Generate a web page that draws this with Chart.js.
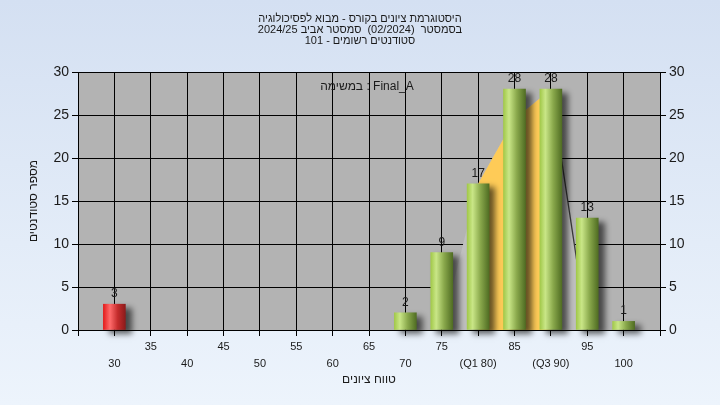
<!DOCTYPE html>
<html>
<head>
<meta charset="utf-8">
<script src="https://cdn.jsdelivr.net/npm/chart.js@4/dist/chart.umd.min.js"></script>
<style>
  html, body { margin: 0; padding: 0; background: #e3ecf8; }
  #wrap { width: 720px; height: 405px; }
</style>
</head>
<body>
<div id="wrap"><canvas id="histogram" width="720" height="405"></canvas></div>
<script>
// grade bins and number of students per bin
const bins = [30, 35, 40, 45, 50, 55, 60, 65, 70, 75, 80, 85, 90, 95, 100];
const counts = [3, 0, 0, 0, 0, 0, 0, 0, 2, 9, 17, 28, 28, 13, 1];
const tickLabels = ['30', '35', '40', '45', '50', '55', '60', '65', '70', '75', '(Q1 80)', '85', '(Q3 90)', '95', '100'];

// smoothed distribution drawn behind the bars
const curveX = [75, 80, 85, 90, 95];
const curveY = [0, 17, 24.5, 28, 0];
const q1 = 80;
const q3 = 90;
const passMark = 55;

const titleLines = [
    'היסטוגרמת ציונים בקורס - מבוא לפסיכולוגיה',
    'בסמסטר  (02/2024)  סמסטר אביב 2024/25',
    'סטודנטים רשומים - 101'
];
const taskLabel = 'במשימה : Final_A';
const xTitle = 'טווח ציונים';
const yTitle = 'מספר סטודנטים';

const FONT = "'Liberation Sans', Arial, sans-serif";
Chart.defaults.font.family = FONT;
Chart.defaults.color = '#1a1a1a';

function barGradient(c, bar, failing) {
    const g = c.createLinearGradient(bar.x - bar.width / 2, 0, bar.x + bar.width / 2, 0);
    if (failing) {
        g.addColorStop(0, '#e31c1c');
        g.addColorStop(0.3, '#ff6b6b');
        g.addColorStop(0.65, '#c42c2c');
        g.addColorStop(1, '#8c1b1b');
    } else {
        g.addColorStop(0, '#a2c94a');
        g.addColorStop(0.25, '#c9e687');
        g.addColorStop(0.6, '#8aa94c');
        g.addColorStop(1, '#506d23');
    }
    return g;
}

const backdrop = {
    id: 'backdrop',
    beforeDraw(chart) {
        const c = chart.ctx;
        const a = chart.chartArea;
        c.save();
        const g = c.createLinearGradient(0, 0, 0, chart.height);
        g.addColorStop(0, '#d4e0f2');
        g.addColorStop(1, '#edf4fc');
        c.fillStyle = g;
        c.fillRect(0, 0, chart.width, chart.height);
        c.fillStyle = '#b3b3b3';
        c.fillRect(a.left, a.top, a.right - a.left, a.bottom - a.top);
        c.restore();
    }
};

const barLook = {
    id: 'barLook',
    beforeDatasetDraw(chart, args) {
        if (args.meta.type !== 'bar') return;
        const c = chart.ctx;
        args.meta.data.forEach((bar, i) => {
            if (Number.isFinite(bar.x)) bar.options.backgroundColor = barGradient(c, bar, bins[i] < passMark);
        });
        c.save();
        c.shadowColor = 'rgba(0,0,0,0.6)';
        c.shadowBlur = 6;
        c.shadowOffsetX = 6;
        c.shadowOffsetY = 4;
    },
    afterDatasetDraw(chart, args) {
        if (args.meta.type !== 'bar') return;
        chart.ctx.restore();
    }
};

const texts = {
    id: 'texts',
    afterDraw(chart) {
        const c = chart.ctx;
        const a = chart.chartArea;
        c.save();
        c.direction = 'ltr';
        // value labels above bars
        const meta = chart.getDatasetMeta(0);
        c.font = '12px ' + FONT;
        c.fillStyle = '#1a1a1a';
        c.textAlign = 'center';
        c.textBaseline = 'alphabetic';
        meta.data.forEach((bar, i) => {
            if (counts[i] > 0) c.fillText(String(counts[i]), bar.x, bar.y - 7);
        });
        // titles
        c.font = '11px ' + FONT;
        c.textBaseline = 'middle';
        titleLines.forEach((t, i) => c.fillText(t, 360, 19 + i * 11));
        c.font = '12px ' + FONT;
        c.fillText(taskLabel, (a.left + a.right) / 2 - 2, 87);
        c.restore();
    }
};

new Chart(document.getElementById('histogram'), {
    data: {
        datasets: [{
            type: 'bar',
            data: bins.map((b, i) => ({ x: b, y: counts[i] > 0 ? counts[i] : null })),
            backgroundColor: ctx => (ctx.parsed && ctx.parsed.x < passMark) ? '#d22' : '#9cc443',
            barThickness: 22,
            borderWidth: 0,
            clip: false,
            order: 1
        }, {
            type: 'line',
            data: curveX.map((x, i) => ({ x: x, y: curveY[i] })).filter(p => p.x >= q1 && p.x <= q3),
            backgroundColor: '#fecb57',
            borderWidth: 0,
            pointRadius: 0,
            tension: 0,
            fill: 'origin',
            order: 2
        }, {
            type: 'line',
            data: curveX.map((x, i) => ({ x: x, y: curveY[i] })),
            backgroundColor: '#bfbfbf',
            borderWidth: 1.3,
            segment: {
                borderColor: ctx => ctx.p0.parsed.x >= q3 ? '#3a3a3a' : 'rgba(0,0,0,0)'
            },
            pointRadius: 0,
            tension: 0,
            fill: 'origin',
            order: 3
        }]
    },
    options: {
        responsive: false,
        animation: false,
        layout: { padding: { top: 72, left: 0, right: 0, bottom: 0 } },
        plugins: {
            legend: { display: false },
            tooltip: { enabled: false }
        },
        scales: {
            x: {
                type: 'linear',
                min: 25,
                max: 105,
                offset: false,
                afterFit(s) { s.height = 75; },
                ticks: {
                    stepSize: 5,
                    autoSkip: false,
                    maxRotation: 0,
                    padding: 3,
                    font: { size: 11, lineHeight: 1.5 },
                    color: '#1a1a1a',
                    callback(v) {
                        const i = bins.indexOf(v);
                        if (i < 0) return ['', ''];
                        return i % 2 === 0 ? ['', tickLabels[i]] : [tickLabels[i], ''];
                    }
                },
                grid: { color: '#000', lineWidth: 1, tickLength: 6, offset: false },
                border: { color: '#000' },
                title: {
                    display: true,
                    text: xTitle,
                    font: { size: 12 },
                    color: '#1a1a1a',
                    padding: { top: 0, bottom: 18 }
                }
            },
            y: {
                position: 'left',
                min: 0,
                max: 30,
                afterFit(s) { s.width = 78; },
                ticks: { stepSize: 5, padding: 3, font: { size: 14 }, color: '#1a1a1a' },
                grid: { color: '#000', lineWidth: 1, tickLength: 6 },
                border: { color: '#000' },
                title: {
                    display: true,
                    text: yTitle,
                    font: { size: 12 },
                    color: '#1a1a1a',
                    padding: { top: 26, bottom: 0 }
                }
            },
            y2: {
                position: 'right',
                min: 0,
                max: 30,
                afterFit(s) { s.width = 60; },
                ticks: { stepSize: 5, padding: 3, font: { size: 14 }, color: '#1a1a1a' },
                grid: { color: '#000', drawOnChartArea: false, tickLength: 6 },
                border: { color: '#000' }
            }
        }
    },
    plugins: [backdrop, barLook, texts]
});
</script>
</body>
</html>
